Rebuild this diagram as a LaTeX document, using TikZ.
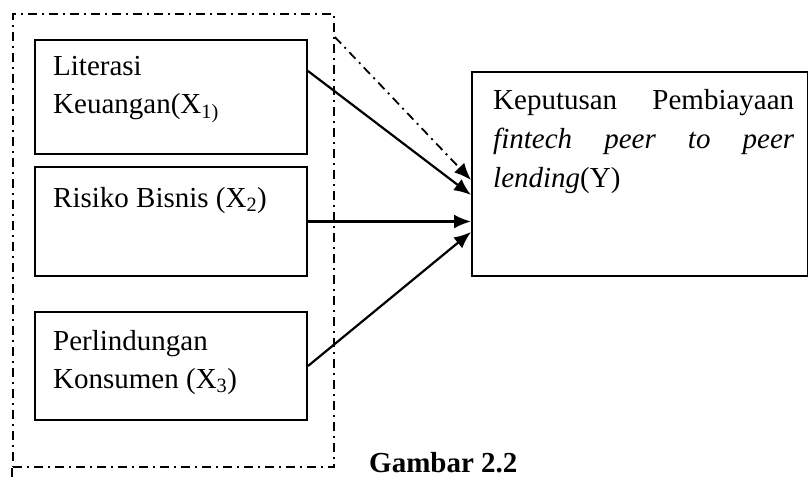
\documentclass[tikz,border=0pt]{standalone}
\usepackage{fontspec}
\setmainfont{Liberation Serif}
\usetikzlibrary{arrows.meta,calc}

\begin{document}
\begin{tikzpicture}[x=1pt,y=-1pt,
                    varbox/.style={draw,line width=2pt,minimum width=272pt,minimum height=#1,anchor=north west,inner sep=0pt},
                    varbox/.default=114pt,
                    txt/.style={anchor=base west,inner sep=0pt,align=left,font=\fontsize{29}{38}\selectfont},
                    dashdot/.style={line width=1.8pt,dash pattern=on 9pt off 5pt on 2pt off 5pt},
                    arr/.style={line width=2.2pt,-{Latex[length=17pt,width=14pt]}}]
                    \useasboundingbox (0,0) rectangle (808,480);
                    % kelompok variabel X
                    \node[dashdot,draw,anchor=north west,minimum width=321pt,minimum height=453pt,inner sep=0pt] (grp) at (12,13) {};
                    \draw[dashdot] (grp.south west) -- ++(0,16);
                    \node[varbox] (lit) at (34,39) {};
                    \node[varbox=109pt] (ris) at (34,166) {};
                    \node[varbox=108pt] (per) at (34,311) {};
                    \node[draw,line width=2pt,anchor=north west,minimum width=336pt,minimum height=204pt,inner sep=0pt] (kep) at (471,71) {};
                    % teks
                    \node[txt] (tlit) at ($(lit.north west)+(19,74)$) {Literasi\\Keuangan(X\textsubscript{1)}};
                    \node[txt] (tris) at ($(ris.north west)+(19,41)$) {Risiko Bisnis (X\textsubscript{2})};
                    \node[txt] (tper) at ($(per.north west)+(19,77)$) {Perlindungan\\Konsumen (X\textsubscript{3})};
                    \node[txt,font=\fontsize{29}{39}\selectfont] (tkep) at ($(kep.north west)+(22,116)$) {\makebox[301pt][s]{Keputusan Pembiayaan}\\
                        \makebox[301pt][s]{\itshape fintech peer to peer}\\
                        \textit{lending}(Y)};
                    \node[txt,font=\fontsize{29}{38}\selectfont\bfseries] (cap) at (369,472) {Gambar 2.2};
                    % panah
                    \draw[arr] ($(lit.north east)+(0,32)$) -- ($(kep.north west)+(0,124)$);
                    \draw[arr] (ris.east) -- (kep.west |- ris.east);
                    \draw[arr] (per.east) -- ($(kep.north west)+(0,161)$);
                    \draw[dashdot,-{Latex[length=17pt,width=14pt]}] ($(grp.north east)+(0,24)$) -- ($(kep.north west)+(0,109)$);
\end{tikzpicture}
\end{document}
